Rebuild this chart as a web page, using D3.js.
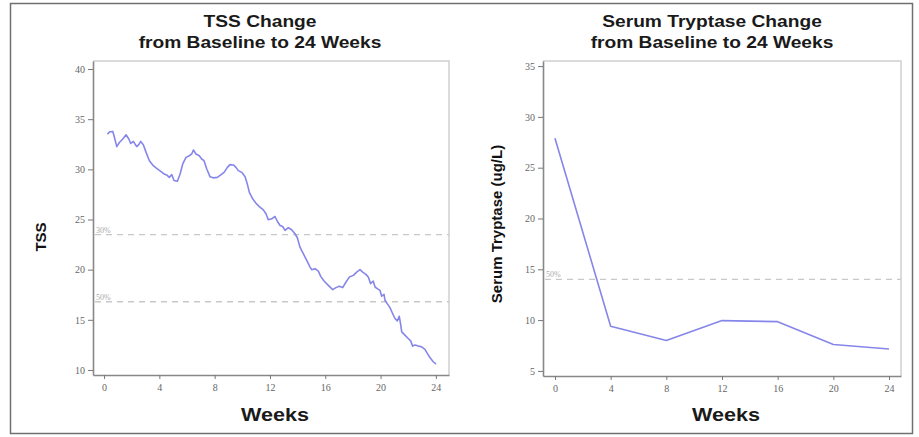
<!DOCTYPE html>
<html>
<head>
<meta charset="utf-8">
<script src="https://cdnjs.cloudflare.com/ajax/libs/d3/7.8.5/d3.min.js"></script>
<style>
  body { margin: 0; background: #fff; }
  .tick text { font-family: "Liberation Serif", "DejaVu Serif", serif; font-size: 10px; fill: #666; }
  .tick line { stroke: #777; }
  .domain { stroke: #888; stroke-width: 1.6; }
</style>
</head>
<body>
<div id="chart"></div>
<script>
var svgWidth = 919;
var svgHeight = 437;

// TSS weekly trace
var tssWeeks = [0.24, 0.43, 0.63, 0.72, 0.92, 1.11, 1.35, 1.59, 1.79, 1.93, 2.12, 2.36, 2.51, 2.65, 2.84,
  3.04, 3.28, 3.56, 3.85, 4.10, 4.34, 4.53, 4.72, 4.90, 5.06, 5.30, 5.50, 5.69, 5.93, 6.17, 6.34, 6.46,
  6.65, 6.89, 7.06, 7.23, 7.43, 7.66, 7.90, 8.19, 8.44, 8.68, 8.92, 9.11, 9.35, 9.54, 9.71, 9.96, 10.20,
  10.36, 10.51, 10.75, 10.99, 11.23, 11.52, 11.71, 11.88, 12.13, 12.36, 12.53, 12.73, 12.92, 13.09, 13.33,
  13.57, 13.81, 13.98, 14.17, 14.41, 14.66, 14.90, 15.02, 15.26, 15.50, 15.67, 15.91, 16.22, 16.54, 16.77,
  17.01, 17.26, 17.50, 17.74, 18.03, 18.27, 18.51, 18.71, 18.94, 19.11, 19.28, 19.47, 19.60, 19.76, 19.96,
  20.08, 20.25, 20.32, 20.48, 20.68, 20.87, 21.04, 21.21, 21.35, 21.45, 21.53, 21.76, 22.00, 22.18, 22.32,
  22.49, 22.73, 22.97, 23.21, 23.38, 23.57, 23.81, 24.01];
var tssValues = [33.52, 33.75, 33.78, 33.35, 32.26, 32.68, 33.02, 33.45, 33.02, 32.58, 32.78, 32.26, 32.46, 32.78, 32.46,
  31.69, 30.86, 30.37, 30.04, 29.80, 29.54, 29.44, 29.20, 29.47, 28.88, 28.81, 29.54, 30.54, 31.19, 31.36, 31.53, 31.93,
  31.53, 31.36, 31.03, 30.86, 30.04, 29.27, 29.15, 29.20, 29.44, 29.70, 30.20, 30.47, 30.44, 30.20, 29.87, 29.70, 29.27,
  28.55, 27.71, 27.06, 26.62, 26.29, 25.96, 25.57, 24.97, 25.07, 25.30, 24.83, 24.40, 24.30, 23.91, 24.18,
  23.98, 23.58, 23.18, 22.25, 21.59, 20.92, 20.26, 20.00, 20.10, 19.86, 19.33, 18.87, 18.44, 18.01, 18.21,
  18.34, 18.21, 18.77, 19.26, 19.43, 19.76, 20.00, 19.76, 19.53, 19.26, 18.61, 18.87, 18.27, 18.11, 17.94,
  17.35, 17.54, 16.95, 16.62, 16.22, 15.63, 15.13, 14.89, 15.36, 14.56, 13.80, 13.47, 13.14, 12.90, 12.38,
  12.48, 12.38, 12.31, 12.05, 11.65, 11.25, 10.82, 10.59];

var tryptaseWeeks = [0, 4, 8, 12, 16, 20, 24];
var tryptaseValues = [27.9, 9.4, 8.0, 9.95, 9.85, 7.6, 7.15];

var weekTicks = [0, 4, 8, 12, 16, 20, 24];
var tssTicks = [10, 15, 20, 25, 30, 35, 40];
var tryptaseTicks = [5, 10, 15, 20, 25, 30, 35];

var tssRefValues = [23.5, 16.8];
var tssRefLabels = ["30%", "50%"];
var tryptaseRefValues = [14];
var tryptaseRefLabels = ["50%"];

var svg = d3.select("#chart")
    .append("svg")
    .attr("width", svgWidth)
    .attr("height", svgHeight);

// outer frame
svg.append("rect")
    .attr("x", 10.5).attr("y", 3.5)
    .attr("width", 902).attr("height", 430)
    .attr("fill", "none")
    .attr("stroke", "#707070")
    .attr("stroke-width", 1.5);

// the source picture is a bit stretched sideways, so bold labels get widened
function wideText(cx, cy, size, txt) {
    return svg.append("text")
        .attr("transform", `translate(${cx}, ${cy}) scale(1.2, 1)`)
        .attr("text-anchor", "middle")
        .style("font-family", "Liberation Sans, Arial, sans-serif")
        .style("font-weight", "bold")
        .style("font-size", size + "px")
        .attr("fill", "#1a1a1a")
        .text(txt);
}

function drawPanel(p) {
    var x = d3.scaleLinear().domain(p.xDomain).range([p.left, p.right]);
    var y = d3.scaleLinear().domain(p.yDomain).range([p.bottom, p.top]);

    // light frame on top and right
    svg.append("path")
        .attr("d", `M${p.left},${p.top}H${p.right}V${p.bottom}`)
        .attr("fill", "none")
        .attr("stroke", "#cfcfcf")
        .attr("stroke-width", 1.5);

    // reference lines
    p.refValues.forEach(function (v, i) {
        svg.append("line")
            .attr("x1", p.left + 2).attr("x2", p.right)
            .attr("y1", y(v)).attr("y2", y(v))
            .attr("stroke", "#c8c8c8")
            .attr("stroke-width", 1.3)
            .attr("stroke-dasharray", "6,5");
        svg.append("text")
            .attr("x", p.left + 3).attr("y", y(v) - 2)
            .style("font-family", "Liberation Serif, serif")
            .style("font-size", "8px")
            .attr("fill", "#aaa")
            .text(p.refLabels[i]);
    });

    var line = d3.line()
        .x((d, i) => x(p.weeks[i]))
        .y(d => y(d));
    svg.append("path")
        .datum(p.values)
        .attr("d", line)
        .attr("fill", "none")
        .attr("stroke", "#8686ea")
        .attr("stroke-width", 1.6)
        .attr("stroke-linejoin", "round");

    svg.append("g")
        .attr("transform", `translate(0, ${p.bottom})`)
        .call(d3.axisBottom(x).tickValues(weekTicks).tickSize(4).tickPadding(5).tickSizeOuter(0));

    svg.append("g")
        .attr("transform", `translate(${p.left}, 0)`)
        .call(d3.axisLeft(y).tickValues(p.yTicks).tickSize(5).tickPadding(3).tickSizeOuter(0));

    // titles
    p.title.forEach(function (t, i) {
        wideText(p.titleX, 27 + i * 21, 16, t);
    });

    wideText((p.left + p.right) / 2 + 4, 421, 18, "Weeks");

    svg.append("text")
        .attr("transform", `translate(${p.yLabelX}, ${p.yLabelY}) rotate(-90)`)
        .attr("text-anchor", "middle")
        .style("font-family", "Liberation Sans, Arial, sans-serif")
        .style("font-weight", "bold")
        .style("font-size", "15px")
        .attr("fill", "#111")
        .text(p.yLabel);
}

drawPanel({
    left: 93, right: 449, top: 61, bottom: 375,
    xDomain: [-0.8, 24.95], yDomain: [9.5, 40.8],
    weeks: tssWeeks, values: tssValues, yTicks: tssTicks,
    refValues: tssRefValues, refLabels: tssRefLabels,
    title: ["TSS Change", "from Baseline to 24 Weeks"], titleX: 260,
    yLabel: "TSS", yLabelX: 46, yLabelY: 237
});

drawPanel({
    left: 543, right: 901, top: 61, bottom: 376,
    xDomain: [-0.86, 24.86], yDomain: [4.5, 35.5],
    weeks: tryptaseWeeks, values: tryptaseValues, yTicks: tryptaseTicks,
    refValues: tryptaseRefValues, refLabels: tryptaseRefLabels,
    title: ["Serum Tryptase Change", "from Baseline to 24 Weeks"], titleX: 712,
    yLabel: "Serum Tryptase (ug/L)", yLabelX: 502, yLabelY: 224
});
</script>
</body>
</html>
